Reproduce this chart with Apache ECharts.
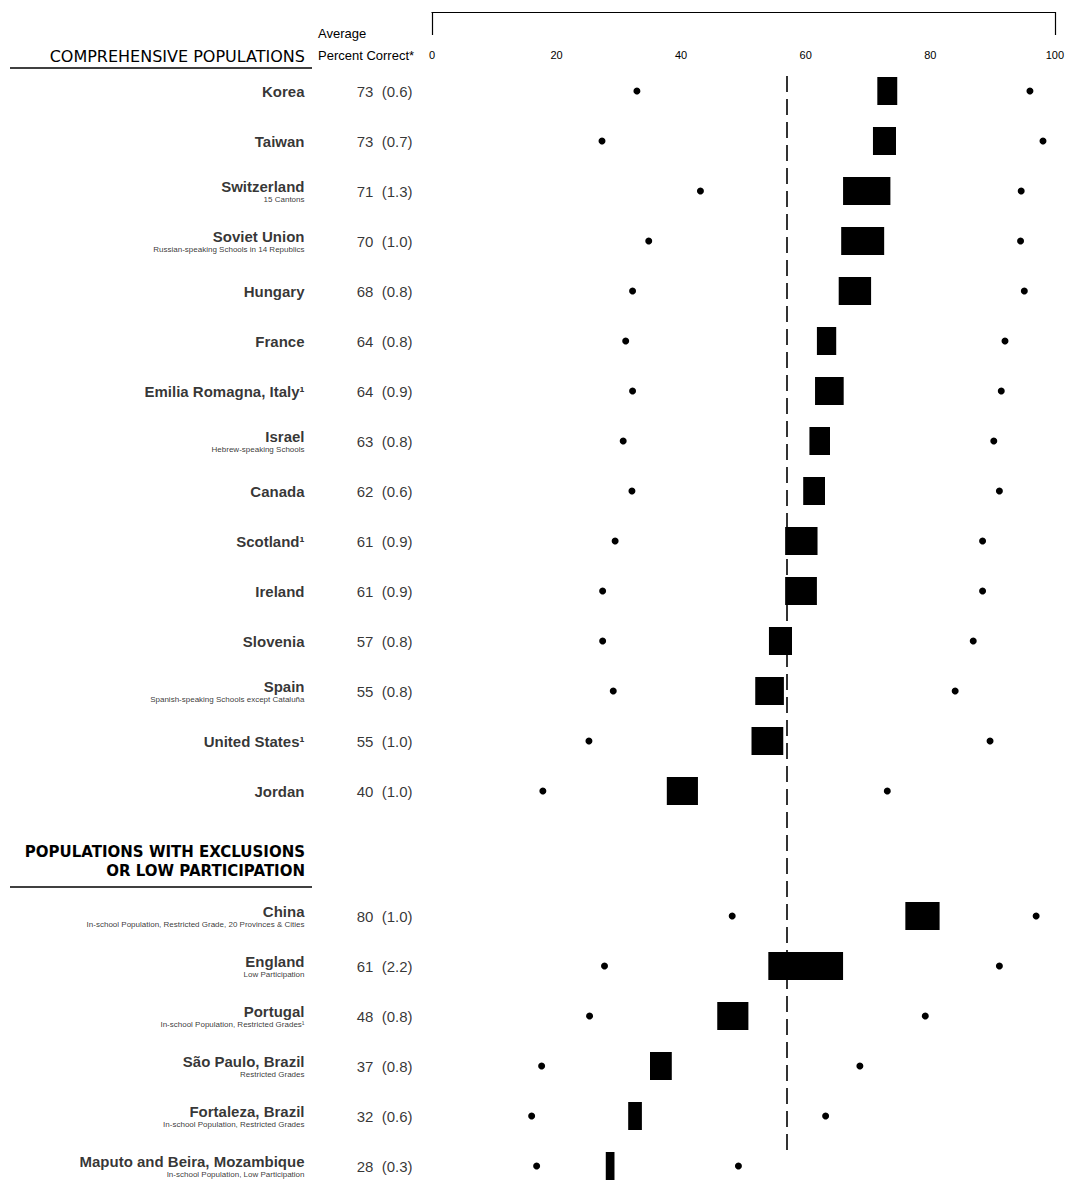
<!DOCTYPE html>
<html><head><meta charset="utf-8">
<script src="https://cdn.jsdelivr.net/npm/echarts@6/dist/echarts.min.js"></script>
<style>html,body{margin:0;padding:0;background:#fff}#c{width:1067px;height:1186px}</style>
</head><body><div id="c"></div>
<script>
// ---- data ----
const groupANames = ['Korea','Taiwan','Switzerland','Soviet Union','Hungary','France','Emilia Romagna, Italy¹','Israel','Canada','Scotland¹','Ireland','Slovenia','Spain','United States¹','Jordan'];
const groupASubs = ['','','15 Cantons','Russian-speaking Schools in 14 Republics','','','','Hebrew-speaking Schools','','','','','Spanish-speaking Schools except Cataluña','',''];
const groupAMeans = [73,73,71,70,68,64,64,63,62,61,61,57,55,55,40];
const groupASE = ['0.6','0.7','1.3','1.0','0.8','0.8','0.9','0.8','0.6','0.9','0.9','0.8','0.8','1.0','1.0'];
const groupABoxLow = [71.5,70.8,66.0,65.7,65.3,61.8,61.5,60.6,59.6,56.7,56.7,54.1,51.9,51.3,37.7];
const groupABoxHigh = [74.7,74.5,73.6,72.6,70.5,64.9,66.1,63.9,63.1,61.9,61.8,57.8,56.5,56.4,42.7];
const groupALowDot = [32.9,27.3,43.1,34.8,32.2,31.1,32.2,30.7,32.1,29.4,27.4,27.4,29.1,25.2,17.8];
const groupAHighDot = [96.0,98.1,94.6,94.5,95.1,92.0,91.4,90.2,91.1,88.4,88.4,86.9,84.0,89.6,73.1];

const groupBNames = ['China','England','Portugal','São Paulo, Brazil','Fortaleza, Brazil','Maputo and Beira, Mozambique'];
const groupBSubs = ['In-school Population, Restricted Grade, 20 Provinces & Cities','Low Participation','In-school Population, Restricted Grades¹','Restricted Grades','In-school Population, Restricted Grades','In-school Population, Low Participation'];
const groupBMeans = [80,61,48,37,32,28];
const groupBSE = ['1.0','2.2','0.8','0.8','0.6','0.3'];
const groupBBoxLow = [76.0,54.0,45.8,35.0,31.5,27.9];
const groupBBoxHigh = [81.5,66.0,50.8,38.5,33.7,29.3];
const groupBLowDot = [48.2,27.7,25.3,17.6,16.0,16.8];
const groupBHighDot = [97.0,91.1,79.2,68.7,63.2,49.2];

const xTickValues = [0,20,40,60,80,100];
const referenceValue = 57;

// ---- layout ----
const GROUP_GAP = 1.5;
const FONT = "'Liberation Sans', Arial, sans-serif";
const INK = '#000';

const rows = [];
groupANames.forEach((n,i)=>rows.push({name:n, sub:groupASubs[i], mean:groupAMeans[i], se:groupASE[i], lo:groupABoxLow[i], hi:groupABoxHigh[i], p5:groupALowDot[i], p95:groupAHighDot[i], pos:i}));
groupBNames.forEach((n,j)=>rows.push({name:n, sub:groupBSubs[j], mean:groupBMeans[j], se:groupBSE[j], lo:groupBBoxLow[j], hi:groupBBoxHigh[j], p5:groupBLowDot[j], p95:groupBHighDot[j], pos:groupANames.length + GROUP_GAP + j}));
const lastPos = rows[rows.length-1].pos;

const chart = echarts.init(document.getElementById('c'), null, {renderer:'svg'});
chart.setOption({
  animation:false,
  backgroundColor:'#fff',
  grid:{left:432, right:12, top:66, bottom:0, containLabel:false},
  xAxis:{
    type:'value', position:'top', min:0, max:100, interval:20, offset:54,
    axisLine:{show:true, onZero:false, lineStyle:{color:INK, width:1.2}},
    axisTick:{show:true, inside:true, length:23, customValues:[xTickValues[0], xTickValues[xTickValues.length-1]], lineStyle:{color:INK, width:1.2}},
    axisLabel:{inside:true, margin:37, fontSize:11, color:INK, fontFamily:FONT, customValues:xTickValues},
    splitLine:{show:false}
  },
  yAxis:{type:'value', inverse:true, min:-0.5, max:21.9, show:false, splitLine:{show:false}},
  graphic:[
    {type:'text', x:305, y:56, style:{text:'COMPREHENSIVE POPULATIONS', align:'right', verticalAlign:'middle', font:"16px 'DejaVu Sans', sans-serif", fill:INK}},
    {type:'line', shape:{x1:10, y1:68, x2:312, y2:68}, style:{stroke:INK, lineWidth:1.5}},
    {type:'text', x:318, y:33, style:{text:'Average', align:'left', verticalAlign:'middle', font:"13px "+FONT, fill:INK}},
    {type:'text', x:318, y:55, style:{text:'Percent Correct*', align:'left', verticalAlign:'middle', font:"13px "+FONT, fill:INK}},
    {type:'text', x:305, y:852, style:{text:'POPULATIONS WITH EXCLUSIONS', align:'right', verticalAlign:'middle', font:"bold 15px 'DejaVu Sans', sans-serif", fill:INK}},
    {type:'text', x:305, y:871, style:{text:'OR LOW PARTICIPATION', align:'right', verticalAlign:'middle', font:"bold 15px 'DejaVu Sans', sans-serif", fill:INK}},
    {type:'line', shape:{x1:10, y1:887, x2:312, y2:887}, style:{stroke:INK, lineWidth:1.5}}
  ],
  series:[
    {
      type:'custom', name:'box', silent:true,
      data:rows.map(r=>[r.lo, r.hi, r.pos]),
      encode:{x:[0,1], y:2},
      renderItem:(params, api)=>{
        const a = api.coord([api.value(0), api.value(2)]);
        const b = api.coord([api.value(1), api.value(2)]);
        const h = 28;
        return {type:'rect', shape:{x:a[0], y:a[1]-h/2, width:b[0]-a[0], height:h}, style:{fill:INK}};
      },
      markLine:{
        silent:true, symbol:['none','none'], label:{show:false},
        lineStyle:{type:[16,7], color:INK, width:1.6, opacity:1},
        data:[[{coord:[referenceValue,-0.3]},{coord:[referenceValue,lastPos-0.26]}]]
      }
    },
    {type:'scatter', name:'low', silent:true, symbolSize:7, itemStyle:{color:INK, opacity:1}, data:rows.map(r=>[r.p5, r.pos])},
    {type:'scatter', name:'high', silent:true, symbolSize:7, itemStyle:{color:INK, opacity:1}, data:rows.map(r=>[r.p95, r.pos])},
    {
      type:'scatter', name:'names', silent:true, symbolSize:1, itemStyle:{color:'rgba(0,0,0,0)'},
      data:rows.map(r=>({value:[0, r.pos], name:r.name})),
      label:{show:true, position:'left', distance:127, color:INK, fontFamily:FONT,
        formatter:p=>{const r=rows[p.dataIndex]; return r.sub ? '{n|'+r.name+'}\n{s|'+r.sub+'}' : '{n|'+r.name+'}';},
        rich:{n:{fontSize:15, fontWeight:'bold', lineHeight:17, align:'right', fontFamily:FONT, color:INK},
              s:{fontSize:8, lineHeight:10, align:'right', fontFamily:FONT, color:INK}}}
    },
    {
      type:'scatter', name:'values', silent:true, symbolSize:1, itemStyle:{color:'rgba(0,0,0,0)'},
      data:rows.map(r=>[0, r.pos]),
      label:{show:true, position:'left', distance:19, color:INK, fontFamily:FONT, fontSize:15,
        formatter:p=>{const r=rows[p.dataIndex]; return r.mean+'  ('+r.se+')';}}
    }
  ]
});
</script></body></html>
